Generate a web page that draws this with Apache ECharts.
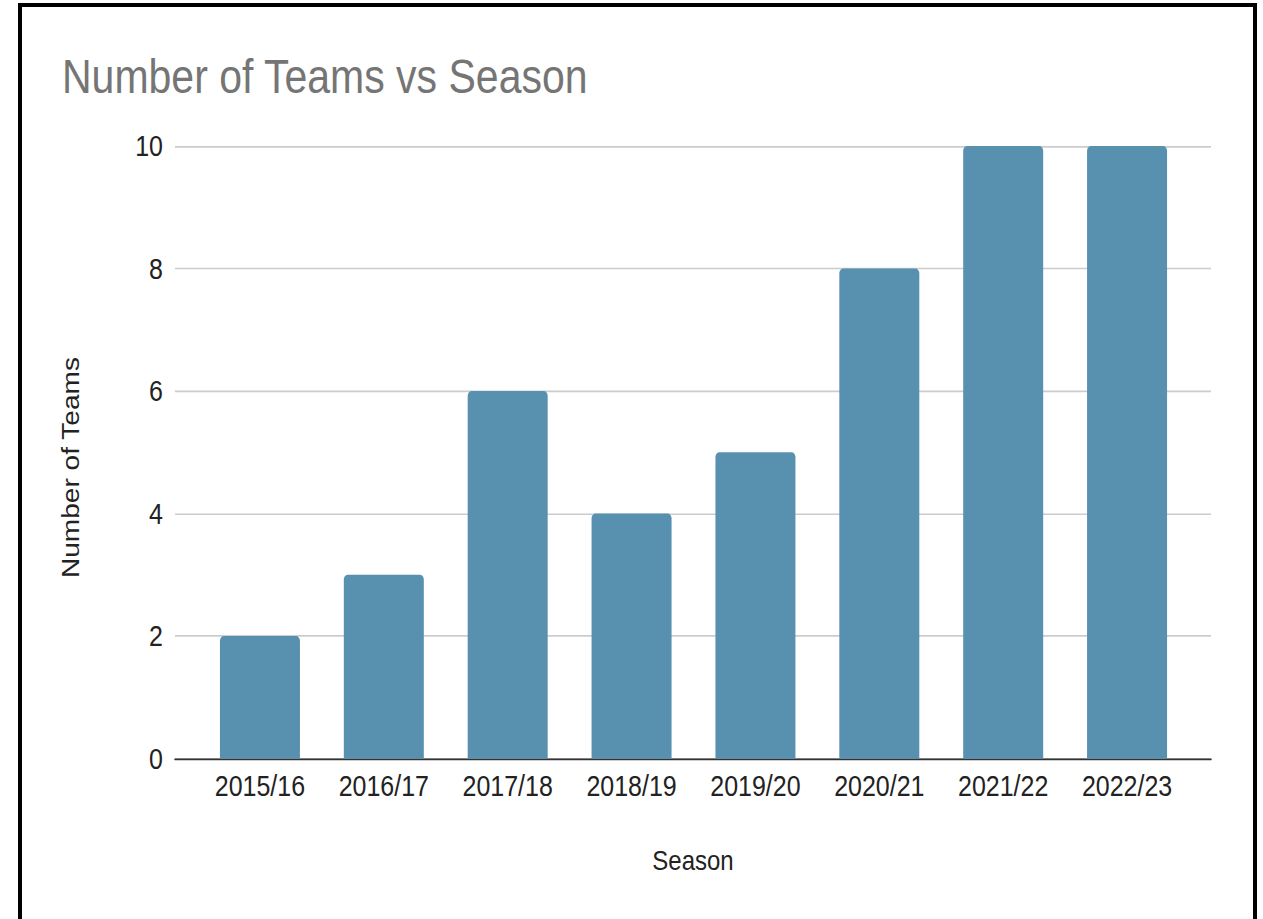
<!DOCTYPE html>
<html><head><meta charset="utf-8">
<script src="https://cdn.jsdelivr.net/npm/echarts@6/dist/echarts.min.js"></script>
<style>
html,body{margin:0;padding:0;background:#fff;overflow:hidden}
#frame{position:absolute;left:18px;top:3px;width:1231px;height:940px;border:4px solid #000;box-sizing:content-box}
#c{position:absolute;left:0;top:0;width:1263px;height:785.5px;transform:scaleY(1.17);transform-origin:0 0}
</style></head>
<body>
<div id="frame"></div>
<div id="c"></div>
<script>
const seasons = ['2015/16','2016/17','2017/18','2018/19','2019/20','2020/21','2021/22','2022/23'];
const teams = [2,3,6,4,5,8,10,10];
const yTicks = {min:0, max:10, interval:2};

const chart = echarts.init(document.getElementById('c'), null, {renderer:'svg'});
const font = '"Liberation Sans", Arial, sans-serif';
chart.setOption({
  animation:false,
  title:{text:'Number of Teams vs Season', left:57, top:40,
    textStyle:{fontFamily:font, fontSize:41, fontWeight:'normal', color:'#757575'}},
  grid:[
    {left:175, right:52, top:124.8, bottom:137.6},
    {left:198, right:74, top:124.8, bottom:137.6}
  ],
  xAxis:[
    {type:'category', gridIndex:0, data:seasons, axisLabel:{show:false}, axisTick:{show:false},
     axisLine:{lineStyle:{color:'#333', width:1.5}},
     name:'Season', nameLocation:'middle', nameGap:75,
     nameTextStyle:{fontFamily:font, fontSize:24, color:'#222'}},
    {type:'category', gridIndex:1, data:seasons, axisTick:{show:false}, axisLine:{show:false},
     axisLabel:{fontFamily:font, fontSize:25, color:'#222', margin:11}}
  ],
  yAxis:[
    {type:'value', gridIndex:0, min:yTicks.min, max:yTicks.max, interval:yTicks.interval,
     axisLabel:{fontFamily:font, fontSize:25, color:'#222', margin:12},
     splitLine:{lineStyle:{color:'#cccccc', width:1.4}},
     name:'Number of Teams', nameLocation:'middle', nameGap:92,
     nameTextStyle:{fontFamily:font, fontSize:24, color:'#222', padding:[0,0,0,-26]}},
    {type:'value', gridIndex:1, min:yTicks.min, max:yTicks.max, interval:yTicks.interval,
     axisLabel:{show:false}, splitLine:{show:false}}
  ],
  series:[{
    type:'bar', xAxisIndex:1, yAxisIndex:1, data:teams, barWidth:80,
    itemStyle:{color:'#5891af', borderRadius:[4,4,0,0]}
  }]
});
</script>
</body></html>
